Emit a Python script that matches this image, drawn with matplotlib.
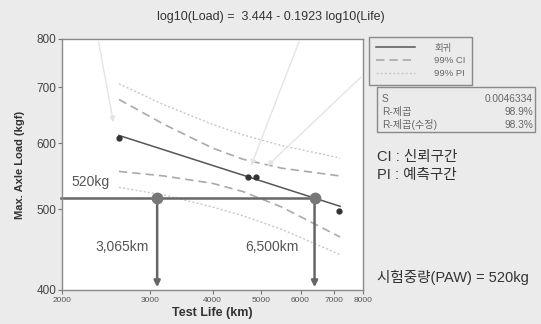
import matplotlib.pyplot as plt
from matplotlib.patches import Rectangle

plt.rcParams['font.family'] = ['Liberation Sans', 'Noto Sans CJK KR', 'DejaVu Sans']

# data
life = [2604, 4717, 4887, 7172]
load = [608, 547, 547, 498]

reg_x = [2600, 7200]
reg_y = [613, 504]

band_x = [2600, 3200, 4000, 4600, 5500, 7200]
ci_upper = [677, 632, 592, 574, 560, 548]
ci_lower = [555, 548, 537, 525, 503, 463]
pi_upper = [707, 667, 632, 614, 596, 576]
pi_lower = [531, 520, 503, 491, 473, 441]

paw_load = 516
cross_life = [3100, 6400]

x_ticks = [2000, 3000, 4000, 5000, 6000, 7000, 8000]
y_ticks = [400, 500, 600, 700, 800]

stats_names = ['S', 'R-제곱', 'R-제곱(수정)']
stats_vals = ['0.0046334', '98.9%', '98.3%']

W, H = 541, 324


def fx(px):
    return px / W


def fy(py):
    return 1 - py / H


fig = plt.figure(figsize=(W / 100, H / 100), dpi=100, facecolor='#ebebeb')
ax = fig.add_axes([fx(62), fy(290), fx(363) - fx(62), fy(39) - fy(290)])
ax.set_facecolor('white')

# faint annotation arrows left in the original screenshot
faint = dict(arrowstyle='-|>', color='#e4e4e4', lw=1.0, mutation_scale=8)
ax.annotate('', xy=(2540, 631), xytext=(2361, 800), arrowprops=faint)
ax.annotate('', xy=(4757, 560), xytext=(5986, 800), arrowprops=faint)
ax.annotate('', xy=(5096, 560), xytext=(8000, 724), arrowprops=faint)

# bands
ax.plot(band_x, pi_upper, color='#c8c8c8', lw=1.0, ls=(0, (1.5, 1.5)), label='99% PI')
ax.plot(band_x, pi_lower, color='#c8c8c8', lw=1.0, ls=(0, (1.5, 1.5)))
ax.plot(band_x, ci_upper, color='#aaaaaa', lw=1.2, ls=(0, (5, 3)), label='99% CI')
ax.plot(band_x, ci_lower, color='#aaaaaa', lw=1.2, ls=(0, (5, 3)))

# regression line and points
ax.plot(reg_x, reg_y, color='#555555', lw=1.1, label='회귀')
ax.plot(life, load, 'o', color='#333333', ms=3.5, zorder=5)

# PAW line and arrows
ax.plot([1990, cross_life[1]], [paw_load, paw_load], color='#666666', lw=1.8, clip_on=False)
for cx in cross_life:
    ax.annotate('', xy=(cx, 400), xytext=(cx, paw_load),
                arrowprops=dict(arrowstyle='-|>', color='#666666', lw=1.8, mutation_scale=9))
    ax.plot([cx], [paw_load], 'o', color='#777777', ms=7.5, zorder=6)

ax.text(0.033, 0.43, '520kg', transform=ax.transAxes, fontsize=10, color='#555555', va='center')
ax.text(0.201, 0.173, '3,065km', transform=ax.transAxes, fontsize=10, color='#555555',
        ha='center', va='center')
ax.text(0.697, 0.173, '6,500km', transform=ax.transAxes, fontsize=10, color='#555555',
        ha='center', va='center')

# axes
ax.set_xscale('log')
ax.set_yscale('log')
ax.set_xlim(2000, 8000)
ax.set_ylim(400, 800)
ax.set_xticks(x_ticks)
ax.set_xticklabels([str(v) for v in x_ticks])
ax.set_yticks(y_ticks)
ax.set_yticklabels([str(v) for v in y_ticks])
ax.minorticks_off()
ax.tick_params(axis='x', labelsize=6, colors='#777777', labelcolor='#555555', length=3, pad=2)
ax.tick_params(axis='y', labelsize=8.5, colors='#777777', labelcolor='#444444', length=3, pad=1)
for s in ax.spines.values():
    s.set_color('#8a8a8a')
    s.set_linewidth(1.0)

ax.set_xlabel('Test Life (km)', fontsize=9, fontweight='bold', color='#333333', labelpad=2)
ax.set_ylabel('Max. Axle Load (kgf)', fontsize=8, fontweight='bold', color='#333333', labelpad=8)

fig.text(fx(271), fy(17), 'log10(Load) =  3.444 - 0.1923 log10(Life)', fontsize=9,
         color='#333333', ha='center', va='center')

# legend
h, l = ax.get_legend_handles_labels()
order = [l.index('회귀'), l.index('99% CI'), l.index('99% PI')]
leg = fig.legend([h[i] for i in order], [l[i] for i in order], loc='upper left',
                 bbox_to_anchor=(fx(369), fy(37)), borderaxespad=0, fontsize=6.8,
                 handlelength=4.2, fancybox=False, edgecolor='#8a8a8a', framealpha=1,
                 facecolor='#ebebeb', borderpad=0.7, labelspacing=0.4, handletextpad=2.0)
leg.get_frame().set_linewidth(1.0)
for t in leg.get_texts():
    t.set_color('#666666')

# stats box
fig.patches.append(Rectangle((fx(377), fy(132)), fx(535) - fx(377), fy(87) - fy(132),
                             transform=fig.transFigure, fill=False, edgecolor='#8a8a8a', lw=1.0))
for i, (n, v) in enumerate(zip(stats_names, stats_vals)):
    y = fy(99 + i * 13)
    fig.text(fx(382), y, n, fontsize=7.3, color='#666666', va='center')
    fig.text(fx(533), y, v, fontsize=7.3, color='#666666', va='center', ha='right')

fig.text(fx(377), fy(157), 'CI : 신뢰구간', fontsize=10.5, color='#333333', va='center')
fig.text(fx(377), fy(175), 'PI : 예측구간', fontsize=10.5, color='#333333', va='center')
fig.text(fx(377), fy(277), '시험중량(PAW) = 520kg', fontsize=10.5, color='#333333', va='center')

fig.savefig('out.png', dpi=100, facecolor=fig.get_facecolor())
